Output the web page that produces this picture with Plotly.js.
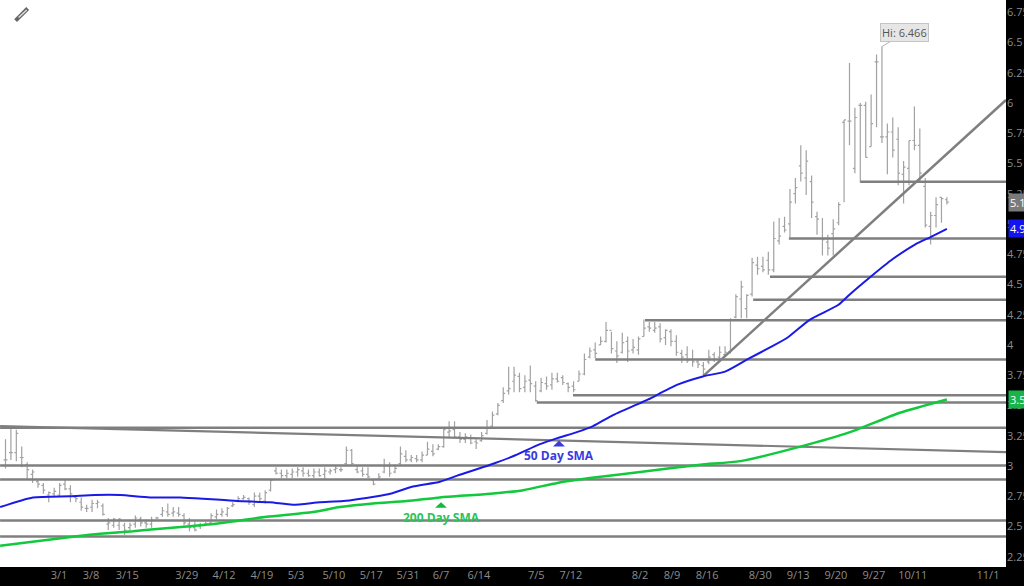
<!DOCTYPE html>
<html><head><meta charset="utf-8"><script src="https://cdn.plot.ly/plotly-3.0.1.min.js"></script>
<style>html,body{margin:0;padding:0;background:#000;overflow:hidden}#c{width:1024px;height:586px}
#c .ohlc path{shape-rendering:geometricPrecision !important}</style></head>
<body><div id="c"></div><script>
const highs=[3.22,3.32,3.30,3.16,3.03,2.97,2.89,2.86,2.79,2.82,2.86,2.89,2.84,2.75,2.74,2.68,2.72,2.72,2.69,2.57,2.57,2.57,2.53,2.53,2.59,2.58,2.56,2.58,2.58,2.66,2.69,2.66,2.66,2.61,2.57,2.54,2.53,2.54,2.61,2.64,2.65,2.66,2.70,2.75,2.76,2.74,2.78,2.78,2.80,2.89,2.99,2.97,2.97,2.98,2.99,2.99,2.97,2.98,2.98,2.99,2.98,3.00,2.99,3.16,3.14,3.00,2.99,2.99,2.89,2.94,3.06,3.03,3.01,3.16,3.13,3.09,3.09,3.12,3.20,3.18,3.18,3.32,3.37,3.37,3.28,3.27,3.26,3.22,3.28,3.38,3.45,3.52,3.65,3.82,3.82,3.77,3.75,3.83,3.70,3.73,3.74,3.77,3.77,3.75,3.69,3.70,3.79,3.93,3.98,4.02,4.07,4.19,4.11,4.03,4.10,4.07,4.05,4.07,4.21,4.19,4.19,4.18,4.13,4.13,4.08,3.96,3.99,3.96,3.88,3.86,3.96,3.94,3.99,3.99,4.22,4.42,4.53,4.42,4.72,4.73,4.73,4.77,5.02,5.05,5.06,5.29,5.38,5.65,5.61,5.40,5.10,5.05,4.91,5.04,5.18,5.86,6.33,5.96,6.00,6.01,6.07,6.40,6.466,5.83,5.88,5.80,5.52,5.69,5.97,5.79,5.38,5.10,5.22,5.22,5.22];
const lows=[2.98,3.05,3.04,2.99,2.89,2.86,2.82,2.77,2.70,2.74,2.75,2.80,2.70,2.70,2.63,2.62,2.62,2.65,2.59,2.47,2.49,2.47,2.43,2.47,2.49,2.50,2.49,2.49,2.56,2.58,2.58,2.58,2.58,2.51,2.46,2.46,2.48,2.51,2.52,2.56,2.58,2.58,2.66,2.70,2.72,2.68,2.66,2.70,2.69,2.79,2.93,2.90,2.90,2.90,2.91,2.91,2.91,2.90,2.91,2.89,2.93,2.94,2.95,3.01,3.01,2.94,2.91,2.90,2.84,2.88,2.94,2.91,2.94,3.01,3.03,3.03,3.03,3.03,3.09,3.08,3.13,3.15,3.23,3.23,3.19,3.19,3.18,3.14,3.20,3.26,3.31,3.42,3.52,3.59,3.61,3.61,3.61,3.61,3.53,3.61,3.63,3.63,3.69,3.67,3.61,3.61,3.70,3.75,3.89,3.89,4.00,4.02,3.93,3.85,3.93,3.86,3.93,3.92,4.07,4.11,4.10,4.02,4.00,3.99,3.91,3.85,3.85,3.82,3.81,3.75,3.84,3.86,3.86,3.90,3.93,4.22,4.22,4.22,4.40,4.58,4.60,4.58,4.60,4.83,4.93,4.89,5.17,5.35,5.24,5.05,4.91,4.74,4.74,4.74,4.99,5.18,5.65,5.42,5.34,5.55,5.64,5.80,5.67,5.41,5.55,5.32,5.17,5.32,5.61,5.35,4.97,4.83,4.97,5.01,5.16];
const opens=[3.05,3.11,3.11,3.07,3.01,2.93,2.87,2.84,2.76,2.77,2.76,2.85,2.81,2.74,2.70,2.65,2.66,2.69,2.67,2.52,2.51,2.51,2.51,2.49,2.52,2.56,2.53,2.52,2.57,2.60,2.62,2.61,2.61,2.59,2.52,2.49,2.50,2.52,2.53,2.58,2.60,2.60,2.67,2.71,2.73,2.73,2.68,2.75,2.71,2.80,2.96,2.94,2.92,2.93,2.95,2.96,2.94,2.92,2.95,2.93,2.95,2.97,2.97,3.02,3.13,2.97,2.96,2.93,2.88,2.89,2.95,3.00,2.95,3.02,3.08,3.05,3.06,3.05,3.09,3.12,3.14,3.16,3.28,3.30,3.24,3.22,3.23,3.20,3.21,3.27,3.33,3.43,3.54,3.62,3.70,3.74,3.65,3.71,3.66,3.62,3.68,3.67,3.72,3.73,3.68,3.66,3.70,3.76,3.90,3.96,4.00,4.03,4.12,3.95,3.94,4.03,3.96,3.96,4.07,4.15,4.12,4.15,4.06,4.11,4.03,3.93,3.92,3.88,3.86,3.83,3.86,3.92,3.90,3.92,3.94,4.23,4.38,4.30,4.42,4.66,4.65,4.70,4.62,4.86,4.98,5.00,5.25,5.48,5.38,5.35,5.06,4.88,4.85,4.92,5.01,5.84,5.85,5.46,5.98,5.98,5.64,6.34,5.72,5.72,5.76,5.70,5.41,5.46,5.69,5.65,5.31,4.98,5.07,5.22,5.20];
const closes=[3.05,3.11,3.27,3.07,2.97,2.95,2.85,2.80,2.78,2.79,2.84,2.81,2.77,2.73,2.66,2.65,2.69,2.70,2.60,2.53,2.56,2.56,2.47,2.51,2.57,2.53,2.52,2.55,2.57,2.63,2.60,2.62,2.60,2.53,2.49,2.47,2.51,2.52,2.59,2.60,2.62,2.65,2.68,2.73,2.74,2.70,2.75,2.73,2.78,2.88,2.94,2.92,2.94,2.95,2.97,2.94,2.92,2.95,2.92,2.96,2.96,2.98,2.97,3.13,3.02,2.95,2.93,2.91,2.85,2.91,3.00,2.94,2.98,3.10,3.05,3.07,3.05,3.09,3.14,3.10,3.16,3.30,3.29,3.24,3.22,3.24,3.19,3.19,3.25,3.31,3.42,3.50,3.60,3.64,3.75,3.64,3.70,3.68,3.54,3.69,3.66,3.72,3.70,3.69,3.65,3.63,3.76,3.88,3.95,3.93,4.03,4.12,3.97,3.91,4.02,3.95,3.98,4.05,4.14,4.14,4.14,4.05,4.12,4.03,3.94,3.90,3.87,3.86,3.84,3.80,3.90,3.88,3.94,3.94,4.21,4.40,4.48,4.41,4.68,4.63,4.62,4.62,4.88,4.90,4.95,5.18,5.30,5.42,5.52,5.18,5.04,4.87,4.80,4.96,5.16,5.86,5.85,5.88,5.98,5.55,5.83,6.34,5.72,5.76,5.61,5.42,5.47,5.69,5.65,5.42,4.99,5.07,5.16,5.21,5.18];
const barIndex=highs.map((_,i)=>i);
const sma50X=[-1,5.1,11.9,16.5,21.2,26.7,32.3,36.5,42.8,48.9,53.1,58.1,62.4,68.7,71.1,75.3,80.3,83.5,89.6,93.8,98.8,102,105.6,108.6,112.3,117.3,118.8,124.1,128.9,133,137.1,141.3,144.5,148.7,153.9,156.1,159.8,164,168.1,170.9,174];
const sma50Y=[2.66,2.74,2.75,2.76,2.76,2.74,2.74,2.73,2.71,2.70,2.68,2.70,2.71,2.75,2.77,2.83,2.87,2.92,3.01,3.08,3.18,3.23,3.28,3.33,3.42,3.52,3.55,3.67,3.74,3.78,3.88,3.98,4.06,4.21,4.33,4.42,4.56,4.71,4.83,4.89,4.96];
const sma200X=[-1,13.2,17.5,23.6,28,33.5,38.4,43.3,48.3,56.8,61.8,67.9,74.2,80.3,89.6,95.7,102,108,117.3,128.4,135.8,146.9,156.1,165.3,174];
const sma200Y=[2.34,2.42,2.44,2.46,2.48,2.50,2.52,2.55,2.58,2.62,2.66,2.69,2.71,2.74,2.77,2.80,2.86,2.90,2.95,3.01,3.04,3.16,3.28,3.44,3.55];
const levelPrices=[3.316,3.004,2.889,2.55,2.418,3.584,3.524,3.879,4.204,4.374,4.564,4.879,5.349];
const levelStarts=[-1,-1,-1,-1,-1,104.9,98.2,109,118.2,138.2,141.3,144.8,158];
const trendAX=[-1,184.93],trendAY=[3.33,3.115];
const trendBX=[129,184.93],trendBY=[3.745,6.025];
const tri50X=[101.2,102.3,103.4],tri50Y=[3.16,3.21,3.16];
const tri200X=[79.4,80.5,81.6],tri200Y=[2.655,2.70,2.655];
const xTickVals=[9.9,15.8,22.5,33.5,40.4,47.4,53.7,60.7,67.6,74.4,80.5,87.5,98.1,104.5,117.3,123.2,129.7,139.5,146.5,153.5,160.5,167.7,181.6];
const xTickText=['3/1','3/8','3/15','3/29','4/12','4/19','5/3','5/10','5/17','5/31','6/7','6/14','7/5','7/12','8/2','8/9','8/16','8/30','9/13','9/20','9/27','10/11','11/1'];
const yTickVals=[2.25,2.5,2.75,3,3.25,3.5,3.75,4,4.25,4.5,4.75,5,5.25,5.5,5.75,6,6.25,6.5,6.75];
const yTickText=['2.25','2.5','2.75','3','3.25','3.5','3.75','4','4.25','4.5','4.75','5','5.25','5.5','5.75','6','6.25','6.5','6.75'];
const lastClose=5.18,last50=4.96,last200=3.55,hiValue=6.466;
const GRAY='#7f7f7f',BAR='#a2a2a2',BLUE='#1a1ae6',GREEN='#12c83c';
const traces=[{type:'ohlc',x:barIndex,open:opens,high:highs,low:lows,close:closes,tickwidth:0.36,
 increasing:{line:{color:BAR,width:1.2}},decreasing:{line:{color:BAR,width:1.2}},hoverinfo:'skip',showlegend:false}];
levelPrices.forEach((p,i)=>traces.push({type:'scatter',mode:'lines',x:[levelStarts[i],184.93],y:[p,p],line:{color:GRAY,width:2.5},hoverinfo:'skip',showlegend:false}));
traces.push({type:'scatter',mode:'lines',x:trendAX,y:trendAY,line:{color:GRAY,width:2.2},hoverinfo:'skip',showlegend:false});
traces.push({type:'scatter',mode:'lines',x:trendBX,y:trendBY,line:{color:GRAY,width:2.5},hoverinfo:'skip',showlegend:false});
traces.push({type:'scatter',mode:'lines',x:sma200X,y:sma200Y,line:{color:GREEN,width:2.5,shape:'spline',smoothing:0.6},hoverinfo:'skip',showlegend:false});
traces.push({type:'scatter',mode:'lines',x:sma50X,y:sma50Y,line:{color:BLUE,width:2,shape:'spline',smoothing:0.6},hoverinfo:'skip',showlegend:false});
traces.push({type:'scatter',mode:'lines',x:tri50X,y:tri50Y,fill:'toself',fillcolor:'#3a3ae0',line:{color:'#3a3ae0',width:0},hoverinfo:'skip',showlegend:false});
traces.push({type:'scatter',mode:'lines',x:tri200X,y:tri200Y,fill:'toself',fillcolor:'#14b93c',line:{color:'#14b93c',width:0},hoverinfo:'skip',showlegend:false});
const sideLabel=(v,bg)=>({xref:'paper',yref:'y',x:1,xshift:2,y:v,xanchor:'left',yanchor:'middle',showarrow:false,text:v.toFixed(2),
 font:{family:'Open Sans',size:11,color:'#fff'},bgcolor:bg,borderpad:1});
const layout={width:1024,height:586,margin:{l:0,r:18,t:0,b:19,pad:0,autoexpand:false},paper_bgcolor:'#000',plot_bgcolor:'#fff',showlegend:false,
 xaxis:{type:'linear',range:[-1.017,184.93],rangeslider:{visible:false},tickmode:'array',tickvals:xTickVals,ticktext:xTickText,showgrid:false,zeroline:false,ticks:'',showline:false,
  tickfont:{family:'Open Sans',size:11,color:'#8c8c8c'},fixedrange:true},
 yaxis:{type:'linear',side:'right',range:[2.165,6.851],tickmode:'array',tickvals:yTickVals,ticktext:yTickText,showgrid:false,zeroline:false,ticks:'',showline:false,
  tickfont:{family:'Open Sans',size:11,color:'#8c8c8c'},fixedrange:true},
 annotations:[
  {x:102.3,y:3.09,text:'<b>50 Day SMA</b>',showarrow:false,font:{family:'Open Sans',size:12,color:'#3a3ae0'}},
  {x:80.5,y:2.575,text:'<b>200 Day SMA</b>',showarrow:false,font:{family:'Open Sans',size:12,color:'#2cc45a'}},
  {x:162,y:hiValue,ax:23,ay:-14,xanchor:'center',yanchor:'middle',axref:'pixel',ayref:'pixel',arrowhead:0,arrowwidth:1,arrowcolor:'#b5b5b5',showarrow:true,standoff:0,
   text:'Hi: '+hiValue,font:{family:'Open Sans',size:11,color:'#555'},bgcolor:'#e6e6e6',bordercolor:'#c4c4c4',borderwidth:1,borderpad:1},
  sideLabel(lastClose,'#7a7a7a'),sideLabel(last50,'#1414f0'),sideLabel(last200,'#18b44a')
 ],
 shapes:[{type:'path',xref:'paper',yref:'paper',path:'M 0.0155 0.9637 L 0.0275 0.9850',line:{color:'#666',width:4}},
  {type:'path',xref:'paper',yref:'paper',path:'M 0.0185 0.9690 L 0.0265 0.9825',line:{color:'#ddd',width:1.5}}]
};
Plotly.newPlot('c',traces,layout,{displayModeBar:false,staticPlot:true});
</script></body></html>
